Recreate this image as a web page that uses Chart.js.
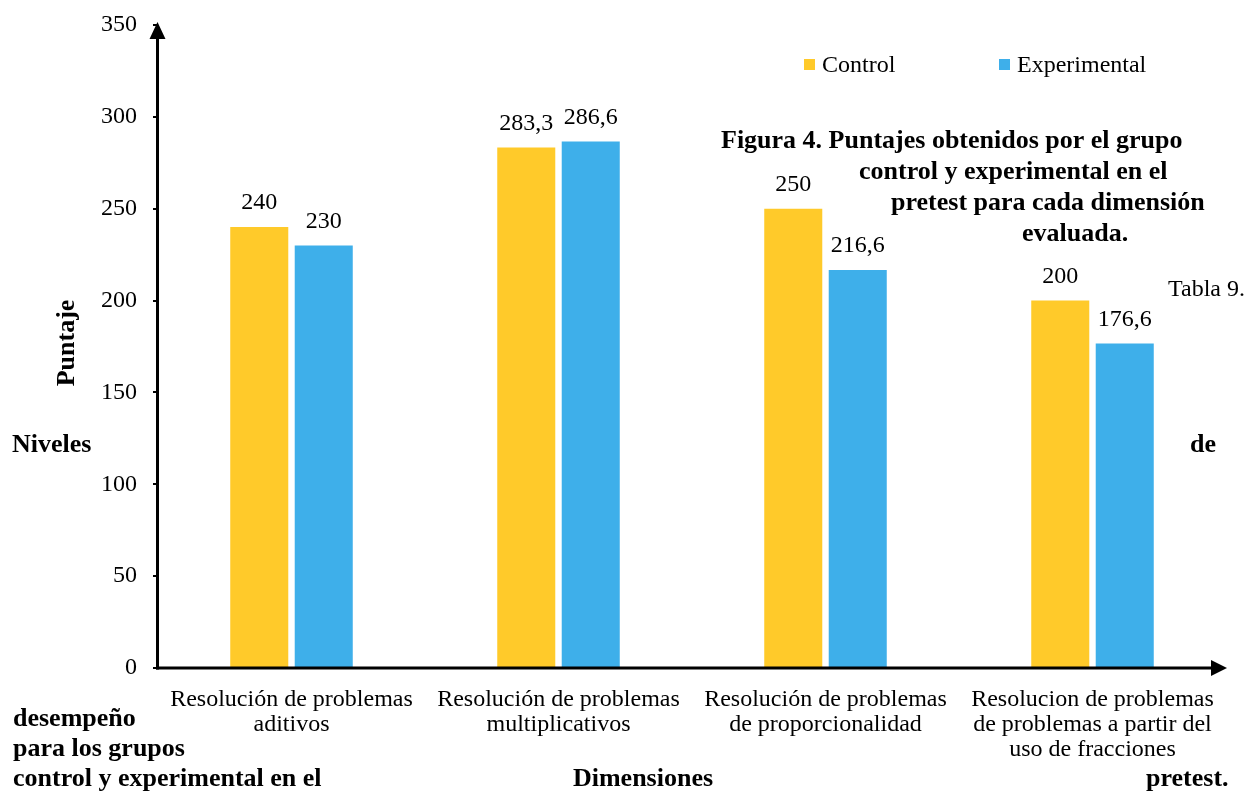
<!DOCTYPE html>
<html>
<head>
<meta charset="utf-8">
<script src="https://cdn.jsdelivr.net/npm/chart.js@4.4.1/dist/chart.umd.min.js"></script>
<style>
  html, body { margin: 0; padding: 0; background: #ffffff; }
  #wrap { position: relative; width: 1258px; height: 795px; }
</style>
</head>
<body>
<div id="wrap"><canvas id="c" width="1258" height="795"></canvas></div>
<script>
const categories = [
  ["Resolución de problemas", "aditivos"],
  ["Resolución de problemas", "multiplicativos"],
  ["Resolución de problemas", "de proporcionalidad"],
  ["Resolucion de problemas", "de problemas a partir del", "uso de fracciones"]
];
const seriesNames = ["Control", "Experimental"];
const controlValues = [240, 283.3, 250, 200];
const experimentalValues = [230, 286.6, 216.6, 176.6];
const yTicks = [0, 50, 100, 150, 200, 250, 300, 350];
const yTitle = "Puntaje";
const xTitle = "Dimensiones";

const FONT = '"Liberation Serif", "Times New Roman", serif';
const YELLOW = "rgb(255,202,42)";
const BLUE = "rgb(62,175,234)";

const overlayTexts = [
  { t: "Figura 4. Puntajes obtenidos por el grupo", x: 721, y: 141, bold: true },
  { t: "control y experimental en el", x: 859, y: 172, bold: true },
  { t: "pretest para cada dimensión", x: 891, y: 203, bold: true },
  { t: "evaluada.", x: 1022, y: 234, bold: true },
  { t: "Tabla 9.", x: 1168, y: 290, bold: false },
  { t: "Niveles", x: 12, y: 445, bold: true },
  { t: "de", x: 1190, y: 445, bold: true },
  { t: "desempeño", x: 13, y: 719, bold: true },
  { t: "para los grupos", x: 13, y: 749, bold: true },
  { t: "control y experimental en el", x: 13, y: 779, bold: true },
  { t: "pretest.", x: 1146, y: 779, bold: true }
];

const fmt = v => String(v).replace(".", ",");

const decorPlugin = {
  id: "decor",
  afterDatasetsDraw(chart) {
    const ctx = chart.ctx;
    ctx.save();
    ctx.fillStyle = "#000";
    ctx.font = "24px " + FONT;
    ctx.textAlign = "center";
    ctx.textBaseline = "middle";
    chart.data.datasets.forEach((ds, di) => {
      const meta = chart.getDatasetMeta(di);
      meta.data.forEach((bar, i) => {
        ctx.fillText(fmt(ds.data[i]), bar.x, bar.y - 24);
      });
    });
    ctx.restore();
  },
  afterDraw(chart) {
    const ctx = chart.ctx;
    const a = chart.chartArea;
    const x0 = a.left - 0.5;
    const y0 = chart.scales.y.getPixelForValue(0);
    ctx.save();
    ctx.strokeStyle = "#000";
    ctx.fillStyle = "#000";
    ctx.lineWidth = 3;
    // y axis
    ctx.beginPath();
    ctx.moveTo(x0, y0 + 1.5);
    ctx.lineTo(x0, a.top + 8);
    ctx.stroke();
    ctx.beginPath();
    ctx.moveTo(x0, a.top - 3);
    ctx.lineTo(x0 - 8, a.top + 14);
    ctx.lineTo(x0 + 8, a.top + 14);
    ctx.closePath();
    ctx.fill();
    // x axis
    ctx.beginPath();
    ctx.moveTo(x0 - 1.5, y0);
    ctx.lineTo(a.right - 8, y0);
    ctx.stroke();
    ctx.beginPath();
    ctx.moveTo(a.right + 1, y0);
    ctx.lineTo(a.right - 15, y0 - 8);
    ctx.lineTo(a.right - 15, y0 + 8);
    ctx.closePath();
    ctx.fill();

    // legend
    ctx.textBaseline = "middle";
    ctx.textAlign = "left";
    ctx.font = "24px " + FONT;
    const leg = [{ x: 804, c: YELLOW, t: seriesNames[0] }, { x: 999, c: BLUE, t: seriesNames[1] }];
    leg.forEach(l => {
      ctx.fillStyle = l.c;
      ctx.fillRect(l.x, 59, 11, 11);
      ctx.fillStyle = "#000";
      ctx.fillText(l.t, l.x + 18, 66);
    });

    // axis titles
    ctx.font = "bold 26px " + FONT;
    ctx.textAlign = "center";
    ctx.fillText(xTitle, 643, 779);
    ctx.save();
    ctx.translate(67, 343);
    ctx.rotate(-Math.PI / 2);
    ctx.fillText(yTitle, 0, 0);
    ctx.restore();

    // stray overlay texts
    ctx.textAlign = "left";
    overlayTexts.forEach(o => {
      ctx.font = (o.bold ? "bold 26px " : "24px ") + FONT;
      ctx.fillText(o.t, o.x, o.y);
    });
    ctx.restore();
  }
};

new Chart(document.getElementById("c"), {
  type: "bar",
  data: {
    labels: categories,
    datasets: [
      { label: seriesNames[0], data: controlValues, backgroundColor: YELLOW, barPercentage: 0.9, categoryPercentage: 0.483 },
      { label: seriesNames[1], data: experimentalValues, backgroundColor: BLUE, barPercentage: 0.9, categoryPercentage: 0.483 }
    ]
  },
  options: {
    responsive: false,
    animation: false,
    layout: { padding: { left: 0, right: 32, top: 25, bottom: 0 } },
    plugins: { legend: { display: false }, tooltip: { enabled: false }, title: { display: false } },
    scales: {
      x: {
        grid: { display: false },
        border: { display: false },
        ticks: { color: "#000", font: { family: FONT, size: 24, lineHeight: 1.04 }, padding: 11, maxRotation: 0, autoSkip: false },
        afterFit(s) { s.height = 127; }
      },
      y: {
        min: 0, max: 350,
        afterBuildTicks(s) { s.ticks = yTicks.map(v => ({ value: v })); },
        grid: { display: true, drawOnChartArea: false, drawTicks: true, tickLength: 5, color: "#000", lineWidth: 2 },
        border: { display: false },
        ticks: { color: "#000", font: { family: FONT, size: 24, lineHeight: 0.5 }, padding: 16 },
        afterFit(s) { s.width = 158; }
      }
    }
  },
  plugins: [decorPlugin]
});
</script>
</body>
</html>
